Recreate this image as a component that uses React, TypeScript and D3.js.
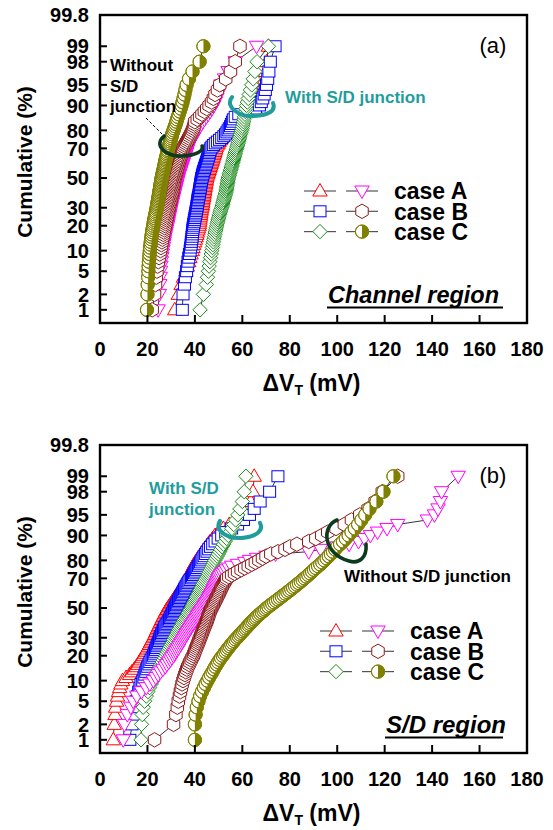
import React from 'react';
import * as d3 from 'd3';

// ---------- axes / labels ----------
const X_TICKS = [0, 20, 40, 60, 80, 100, 120, 140, 160, 180];
const Y_TICKS = [1, 2, 5, 10, 20, 30, 50, 70, 80, 90, 95, 98, 99];
const Y_TOP = 99.8;
const Y_BOTTOM = 0.525;
const CASES = ['case A', 'case B', 'case C'];

// ---------- (a) Channel region, ΔVT in mV, ranked samples ----------
const chA_withSD = [
  31.5, 33.0, 34.2, 35.2, 36.2, 36.8, 37.4, 37.9, 38.4, 38.9,
  39.2, 39.5, 39.9, 40.2, 40.5, 40.8, 41.0, 41.3, 41.5, 41.8,
  41.9, 42.0, 42.1, 42.2, 42.3, 42.4, 42.5, 42.6, 42.7, 42.8,
  43.0, 43.1, 43.2, 43.3, 43.4, 43.5, 43.6, 43.7, 43.8, 43.9,
  44.0, 44.1, 44.2, 44.3, 44.4, 44.5, 44.6, 44.7, 44.8, 44.9,
  45.0, 45.2, 45.4, 45.6, 45.8, 46.0, 46.2, 46.4, 46.6, 46.8,
  47.0, 47.2, 47.4, 47.6, 47.8, 48.0, 48.2, 48.4, 48.6, 48.8,
  49.0, 49.4, 49.8, 50.2, 50.7, 51.2, 51.7, 52.2, 52.7, 53.2,
  53.7, 54.2, 54.7, 55.2, 56.0, 57.5, 60.0, 63.5, 65.5, 66.8,
  67.3, 67.8, 68.2, 68.6, 69.0, 69.4, 69.8, 70.3, 71.0,
];
const chB_withSD = [
  34.7, 35.0, 35.6, 36.0, 36.5, 36.8, 37.1, 37.4, 37.7, 38.0,
  38.2, 38.4, 38.5, 38.7, 38.8, 38.9, 39.0, 39.1, 39.2, 39.4,
  39.5, 39.7, 39.8, 40.0, 40.1, 40.3, 40.4, 40.5, 40.7, 40.8,
  40.9, 41.0, 41.1, 41.2, 41.3, 41.4, 41.5, 41.7, 41.8, 41.9,
  42.0, 42.1, 42.2, 42.3, 42.4, 42.5, 42.6, 42.7, 42.8, 42.9,
  43.1, 43.2, 43.4, 43.5, 43.7, 43.9, 44.1, 44.3, 44.5, 44.7,
  44.9, 45.1, 45.3, 45.5, 45.7, 45.9, 46.0, 46.2, 46.4, 46.7,
  47.2, 47.8, 48.6, 49.5, 50.4, 51.3, 52.2, 52.9, 53.5, 54.0,
  54.5, 55.0, 55.4, 55.8, 56.2, 57.0, 58.5, 62.0, 65.5, 67.2,
  68.0, 68.6, 69.2, 69.7, 70.2, 70.7, 71.2, 71.8, 73.8,
];
const chC_withSD = [
  42.2, 43.6, 44.8, 45.3, 45.7, 46.0, 46.3, 46.6, 46.9, 47.1,
  47.4, 47.6, 47.8, 48.0, 48.2, 48.4, 48.6, 48.8, 49.0, 49.2,
  49.4, 49.6, 49.8, 50.0, 50.2, 50.4, 50.6, 50.8, 51.0, 51.3,
  51.5, 51.7, 51.8, 52.0, 52.2, 52.4, 52.5, 52.7, 52.9, 53.0,
  53.2, 53.3, 53.4, 53.5, 53.6, 53.7, 53.8, 53.9, 54.0, 54.1,
  54.3, 54.5, 54.6, 54.8, 55.0, 55.1, 55.3, 55.5, 55.6, 55.8,
  56.0, 56.2, 56.3, 56.5, 56.7, 56.8, 57.0, 57.2, 57.4, 57.6,
  57.8, 58.0, 58.2, 58.4, 58.6, 58.8, 59.0, 59.2, 59.5, 59.7,
  59.9, 60.1, 60.3, 60.5, 60.7, 60.9, 61.1, 61.3, 61.5, 61.8,
  62.1, 62.5, 62.9, 63.4, 64.0, 64.6, 65.3, 66.2, 71.0,
];
const chA_noSD = [
  24.5, 25.0, 25.2, 25.4, 25.5, 25.7, 25.9, 26.1, 26.3, 26.5,
  26.7, 26.9, 27.1, 27.3, 27.5, 27.7, 27.9, 28.1, 28.3, 28.5,
  28.7, 28.8, 29.0, 29.1, 29.3, 29.4, 29.6, 29.7, 29.9, 30.0,
  30.2, 30.3, 30.5, 30.6, 30.8, 30.9, 31.1, 31.2, 31.4, 31.5,
  31.7, 31.8, 32.0, 32.1, 32.3, 32.4, 32.6, 32.7, 32.9, 33.0,
  33.2, 33.4, 33.6, 33.8, 34.0, 34.2, 34.4, 34.6, 34.8, 35.0,
  35.2, 35.4, 35.6, 35.8, 36.0, 36.2, 36.4, 36.6, 36.8, 37.0,
  37.3, 37.6, 38.0, 38.4, 38.8, 39.2, 39.6, 40.0, 40.5, 41.0,
  41.5, 42.1, 42.7, 43.3, 44.0, 44.8, 45.6, 46.4, 47.2, 48.0,
  48.6, 49.2, 49.8, 50.4, 51.0, 52.5, 54.0, 57.0, 66.0,
];
const chB_noSD = [
  22.0, 23.0, 23.4, 23.7, 24.0, 24.3, 24.6, 24.9, 25.2, 25.5,
  25.7, 25.9, 26.1, 26.3, 26.5, 26.7, 26.9, 27.1, 27.3, 27.5,
  27.7, 27.8, 28.0, 28.1, 28.3, 28.4, 28.6, 28.7, 28.9, 29.0,
  29.2, 29.3, 29.5, 29.6, 29.8, 29.9, 30.0, 30.2, 30.3, 30.5,
  30.6, 30.7, 30.8, 30.9, 31.0, 31.1, 31.2, 31.3, 31.4, 31.5,
  31.7, 31.8, 32.0, 32.1, 32.3, 32.4, 32.6, 32.7, 32.9, 33.0,
  33.2, 33.4, 33.6, 33.8, 34.0, 34.2, 34.4, 34.6, 34.8, 35.0,
  35.4, 35.8, 36.2, 36.6, 37.0, 37.4, 37.8, 38.2, 38.6, 39.0,
  39.3, 39.6, 39.8, 40.0, 41.0, 42.0, 43.0, 44.0, 45.0, 46.0,
  47.0, 47.8, 48.5, 49.5, 50.5, 53.0, 55.0, 57.0, 59.0,
];
const chC_noSD = [
  19.8, 20.0, 20.1, 20.3, 20.4, 20.5, 20.6, 20.8, 20.9, 21.0,
  21.1, 21.3, 21.4, 21.6, 21.7, 21.8, 22.0, 22.1, 22.3, 22.4,
  22.6, 22.7, 22.9, 23.0, 23.2, 23.3, 23.5, 23.6, 23.8, 23.9,
  24.0, 24.1, 24.2, 24.4, 24.5, 24.6, 24.7, 24.8, 24.9, 25.0,
  25.1, 25.2, 25.3, 25.4, 25.5, 25.6, 25.7, 25.8, 25.9, 26.0,
  26.1, 26.3, 26.4, 26.5, 26.7, 26.8, 26.9, 27.1, 27.2, 27.3,
  27.4, 27.6, 27.7, 27.9, 28.0, 28.2, 28.3, 28.5, 28.6, 28.8,
  29.0, 29.2, 29.4, 29.6, 29.8, 30.0, 30.2, 30.4, 30.7, 31.0,
  31.3, 31.6, 31.9, 32.2, 32.5, 32.8, 33.2, 33.6, 34.0, 34.4,
  34.8, 35.2, 35.6, 36.0, 36.5, 37.5, 39.0, 42.0, 43.6,
];

// ---------- (b) S/D region ----------
const sdA_withSD = [
  5.6, 6.0, 6.3, 6.6, 7.0, 7.4, 7.8, 8.3, 8.8, 9.5,
  11.0, 12.5, 13.5, 14.5, 15.3, 16.0, 16.6, 17.2, 17.8, 18.3,
  18.8, 19.3, 19.7, 20.1, 20.5, 20.9, 21.3, 21.7, 22.1, 22.5,
  22.8, 23.1, 23.4, 23.7, 24.0, 24.3, 24.6, 24.9, 25.2, 25.5,
  25.8, 26.1, 26.4, 26.7, 27.0, 27.3, 27.6, 27.9, 28.3, 28.7,
  29.1, 29.5, 29.9, 30.3, 30.7, 31.1, 31.5, 31.9, 32.3, 32.7,
  33.1, 33.5, 33.9, 34.3, 34.7, 35.1, 35.5, 35.9, 36.2, 36.5,
  36.9, 37.3, 37.7, 38.1, 38.5, 38.9, 39.3, 39.7, 40.2, 40.8,
  41.4, 42.0, 42.6, 43.3, 44.0, 44.8, 45.6, 46.5, 47.5, 48.5,
  50.0, 52.0, 54.5, 57.0, 60.0, 62.0, 63.5, 64.5, 65.0,
];
const sdB_withSD = [
  12.6, 13.5, 14.2, 14.8, 15.3, 15.8, 16.3, 16.8, 17.3, 18.0,
  18.5, 18.9, 19.3, 19.7, 20.1, 20.6, 21.0, 21.5, 22.0, 22.5,
  22.8, 23.1, 23.4, 23.7, 24.0, 24.3, 24.6, 24.9, 25.1, 25.3,
  25.6, 25.9, 26.2, 26.5, 26.8, 27.1, 27.4, 27.8, 28.2, 28.6,
  29.0, 29.3, 29.6, 29.9, 30.2, 30.5, 30.8, 31.1, 31.4, 31.6,
  31.9, 32.2, 32.5, 32.8, 33.1, 33.4, 33.7, 34.0, 34.3, 34.7,
  35.0, 35.3, 35.6, 35.9, 36.3, 36.7, 37.1, 37.5, 38.0, 38.6,
  39.0, 39.4, 39.8, 40.2, 40.6, 41.0, 41.5, 42.0, 42.4, 42.9,
  43.4, 43.9, 44.5, 45.1, 45.8, 46.6, 47.5, 48.5, 49.8, 51.3,
  53.0, 55.5, 58.0, 60.5, 63.0, 65.0, 67.5, 71.5, 75.0,
];
const sdC_withSD = [
  17.3, 17.5, 17.8, 18.2, 18.8, 19.5, 20.2, 20.9, 21.6, 22.3,
  22.9, 23.5, 24.1, 24.7, 25.2, 25.7, 26.2, 26.7, 27.2, 27.7,
  28.1, 28.5, 28.9, 29.3, 29.7, 30.1, 30.5, 30.8, 31.1, 31.5,
  31.8, 32.2, 32.5, 32.9, 33.2, 33.6, 33.9, 34.3, 34.6, 35.0,
  35.3, 35.7, 36.0, 36.4, 36.7, 37.1, 37.4, 37.8, 38.1, 38.5,
  38.8, 39.1, 39.4, 39.7, 40.0, 40.3, 40.6, 40.9, 41.2, 41.5,
  41.8, 42.1, 42.4, 42.7, 43.0, 43.3, 43.6, 44.0, 44.4, 44.8,
  45.2, 45.5, 45.8, 46.1, 46.5, 46.8, 47.2, 47.6, 48.0, 48.4,
  48.9, 49.4, 49.9, 50.4, 50.9, 51.5, 52.1, 52.7, 53.4, 54.1,
  54.8, 55.6, 56.4, 57.2, 58.1, 59.0, 60.0, 60.8, 61.5,
];
const sdA_noSD = [
  9.8, 10.3, 11.5, 13.0, 14.0, 15.5, 17.5, 19.5, 21.0, 22.5,
  23.5, 24.5, 25.5, 26.5, 27.5, 28.2, 29.0, 29.7, 30.3, 31.0,
  31.5, 32.0, 32.5, 33.0, 33.5, 34.0, 34.4, 34.8, 35.2, 35.6,
  36.0, 36.4, 36.8, 37.2, 37.6, 38.0, 38.4, 38.8, 39.2, 39.6,
  40.0, 40.4, 40.8, 41.1, 41.5, 41.9, 42.3, 42.7, 43.1, 43.5,
  43.9, 44.3, 44.6, 45.0, 45.4, 45.8, 46.1, 46.5, 46.8, 47.1,
  47.4, 47.7, 48.0, 48.3, 48.6, 48.9, 49.2, 49.5, 49.8, 50.1,
  50.5, 51.0, 51.6, 52.3, 53.2, 54.3, 55.5, 58.0, 61.0, 63.0,
  66.0, 70.0, 74.0, 88.0, 93.0, 100.0, 105.0, 109.0, 111.5, 114.0,
  117.0, 121.0, 125.5, 138.0, 141.0, 142.5, 143.5, 144.0, 151.0,
];
const sdB_noSD = [
  23.0, 31.0, 32.0, 32.6, 33.0, 33.5, 33.9, 34.3, 34.6, 35.0,
  35.4, 35.8, 36.2, 36.6, 37.0, 37.5, 37.9, 38.4, 38.8, 39.3,
  39.6, 39.9, 40.2, 40.5, 40.8, 41.1, 41.4, 41.7, 41.9, 42.2,
  42.5, 42.7, 43.0, 43.2, 43.5, 43.7, 44.0, 44.2, 44.5, 44.7,
  45.0, 45.2, 45.4, 45.6, 45.8, 46.0, 46.2, 46.4, 46.7, 47.0,
  47.3, 47.6, 47.9, 48.2, 48.5, 48.8, 49.1, 49.4, 49.7, 50.0,
  50.3, 50.6, 50.9, 51.2, 51.5, 51.8, 52.2, 52.6, 53.0, 53.4,
  54.3, 55.5, 56.7, 58.0, 59.5, 61.0, 62.5, 64.0, 65.5, 67.0,
  68.5, 70.0, 72.0, 75.0, 78.0, 80.0, 83.0, 88.0, 91.0, 93.5,
  96.0, 99.5, 103.0, 106.0, 109.5, 113.0, 116.0, 119.0, 125.5,
];
const sdC_noSD = [
  40.0, 40.0, 40.3, 40.8, 41.5, 42.2, 43.0, 43.8, 44.5, 45.3,
  46.0, 46.7, 47.4, 48.0, 48.6, 49.2, 49.8, 50.4, 51.0, 51.7,
  52.3, 52.9, 53.5, 54.1, 54.7, 55.3, 55.9, 56.5, 57.1, 57.8,
  58.4, 59.0, 59.6, 60.2, 60.8, 61.4, 62.0, 62.6, 63.1, 63.7,
  64.3, 64.9, 65.5, 66.1, 66.8, 67.5, 68.2, 68.9, 69.6, 70.3,
  71.0, 71.8, 72.6, 73.4, 74.2, 75.0, 75.8, 76.6, 77.4, 78.2,
  79.0, 79.8, 80.6, 81.4, 82.2, 83.0, 83.8, 84.6, 85.4, 86.2,
  87.0, 87.8, 88.6, 89.4, 90.2, 91.0, 91.9, 92.8, 93.7, 94.6,
  95.5, 96.4, 97.3, 98.2, 99.1, 100.0, 101.2, 102.4, 103.6, 104.8,
  106.0, 107.4, 108.8, 110.2, 111.8, 113.6, 116.5, 119.5, 123.7,
];

// ---------- styling ----------
const FONT = "'Liberation Sans', Arial, Helvetica, sans-serif";
const TEAL = '#1f9d9d';
const DARK_GREEN = '#0c3a1c';

type Shape = 'triUp' | 'square' | 'diamond' | 'triDown' | 'hexagon' | 'halfCircle';
type Style = { shape: Shape; color: string };

const STYLES: Style[] = [
  { shape: 'triUp', color: '#ff0000' },
  { shape: 'square', color: '#0000ff' },
  { shape: 'diamond', color: '#1a8a1a' },
  { shape: 'triDown', color: '#ff00ff' },
  { shape: 'hexagon', color: '#8b1a1a' },
  { shape: 'halfCircle', color: '#808000' },
];

// inverse standard normal CDF (Acklam)
function probit(p: number): number {
  const a = [-3.969683028665376e1, 2.209460984245205e2, -2.759285104469687e2, 1.38357751867269e2, -3.066479806614716e1, 2.506628277459239];
  const b = [-5.447609879822406e1, 1.615858368580409e2, -1.556989798598866e2, 6.680131188771972e1, -1.328068155288572e1];
  const c = [-7.784894002430293e-3, -3.223964580411365e-1, -2.400758277161838, -2.549732539343734, 4.374664141464968, 2.938163982698783];
  const d = [7.784695709041462e-3, 3.224671290700398e-1, 2.445134137142996, 3.754408661907416];
  const pl = 0.02425;
  if (p < pl) {
    const q = Math.sqrt(-2 * Math.log(p));
    return (((((c[0] * q + c[1]) * q + c[2]) * q + c[3]) * q + c[4]) * q + c[5]) / ((((d[0] * q + d[1]) * q + d[2]) * q + d[3]) * q + 1);
  }
  if (p > 1 - pl) {
    const q = Math.sqrt(-2 * Math.log(1 - p));
    return -(((((c[0] * q + c[1]) * q + c[2]) * q + c[3]) * q + c[4]) * q + c[5]) / ((((d[0] * q + d[1]) * q + d[2]) * q + d[3]) * q + 1);
  }
  const q = p - 0.5;
  const r = q * q;
  return ((((((a[0] * r + a[1]) * r + a[2]) * r + a[3]) * r + a[4]) * r + a[5]) * q) / (((((b[0] * r + b[1]) * r + b[2]) * r + b[3]) * r + b[4]) * r + 1);
}

function Marker({ shape, color, x, y }: { shape: Shape; color: string; x: number; y: number }) {
  const t = `translate(${x},${y})`;
  const common = { fill: '#fff', stroke: color, strokeWidth: 1 };
  switch (shape) {
    case 'triUp':
      return <path transform={t} d="M0,-7.5L7.2,5L-7.2,5Z" {...common} />;
    case 'triDown':
      return <path transform={t} d="M0,7.5L7.2,-5L-7.2,-5Z" {...common} />;
    case 'square':
      return <rect transform={t} x={-6} y={-5.5} width={12} height={11} {...common} />;
    case 'diamond':
      return <path transform={t} d="M0,-7.2L7.2,0L0,7.2L-7.2,0Z" {...common} />;
    case 'hexagon': {
      const r = 7.2;
      const pts = d3.range(6).map((k) => {
        const a = (Math.PI / 3) * k - Math.PI / 2;
        return [r * Math.cos(a), r * Math.sin(a)];
      });
      return <path transform={t} d={'M' + pts.map((p) => p.join(',')).join('L') + 'Z'} {...common} />;
    }
    case 'halfCircle':
    default:
      return (
        <g transform={t}>
          <circle r={6.6} {...common} />
          <path d="M0,-6.6A6.6,6.6 0 0 1 0,6.6Z" fill={color} />
          <circle r={6.6} fill="none" stroke={color} strokeWidth={1} />
        </g>
      );
  }
}

const LEFT = 100;
const RIGHT = 527;
const PANEL_H = 308;

type PanelProps = {
  top: number;
  series: number[][];
  tag: string;
  region: string;
  regionX: number;
  regionSize: number;
  legendX: number;
  legendY: number;
  children?: (x: d3.ScaleLinear<number, number>, y: (p: number) => number) => React.ReactNode;
};

function Panel({ top, series, tag, region, regionX, regionSize, legendX, legendY, children }: PanelProps) {
  const bottom = top + PANEL_H;
  const x = d3.scaleLinear().domain([0, 180]).range([LEFT, RIGHT]);
  const z = d3.scaleLinear().domain([probit(Y_BOTTOM / 100), probit(Y_TOP / 100)]).range([bottom, top]);
  const y = (pct: number) => z(probit(pct / 100));
  const line = d3.line<[number, number]>().x((d) => x(d[0])).y((d) => y(d[1]));

  const ranked = series.map((vals) => vals.map((v, i) => [v, (100 * (i + 1)) / (vals.length + 1)] as [number, number]));

  return (
    <g>
      {/* data */}
      {ranked.map((pts, si) => (
        <g key={si}>
          <path d={line(pts) || ''} fill="none" stroke="#000" strokeWidth={0.8} />
          {pts.map((p, i) => (
            <Marker key={i} shape={STYLES[si].shape} color={STYLES[si].color} x={x(p[0])} y={y(p[1])} />
          ))}
        </g>
      ))}

      {children && children(x, y)}

      {/* frame */}
      <rect x={LEFT} y={top} width={RIGHT - LEFT} height={PANEL_H} fill="none" stroke="#000" strokeWidth={2.4} />

      {/* y axis */}
      {Y_TICKS.map((t) => (
        <g key={t}>
          <line x1={LEFT} x2={LEFT + 7} y1={y(t)} y2={y(t)} stroke="#000" strokeWidth={2} />
          <text x={89} y={y(t)} dy="0.36em" textAnchor="end" fontFamily={FONT} fontWeight="bold" fontSize={20}>
            {t}
          </text>
        </g>
      ))}
      <text x={89} y={top} dy="0.36em" textAnchor="end" fontFamily={FONT} fontWeight="bold" fontSize={20}>
        {Y_TOP}
      </text>

      {/* x axis */}
      {X_TICKS.map((t) => (
        <g key={t}>
          {t > 0 && t < 180 && (
            <line x1={x(t)} x2={x(t)} y1={bottom} y2={bottom - 8} stroke="#000" strokeWidth={2} />
          )}
          <text x={x(t)} y={bottom + 33} textAnchor="middle" fontFamily={FONT} fontWeight="bold" fontSize={20}>
            {t}
          </text>
        </g>
      ))}

      {/* axis titles */}
      <text x={(LEFT + RIGHT) / 2 - 2} y={bottom + 68} textAnchor="middle" fontFamily={FONT} fontWeight="bold" fontSize={23}>
        ΔV
        <tspan fontSize={14} dy={4}>T</tspan>
        <tspan dy={-4}> (mV)</tspan>
      </text>
      <text
        transform={`translate(32,${top + 147}) rotate(-90)`}
        textAnchor="middle"
        fontFamily={FONT}
        fontWeight="bold"
        fontSize={21}
      >
        Cumulative (%)
      </text>

      {/* panel tag */}
      <text x={493} y={top + 38} textAnchor="middle" fontFamily={FONT} fontSize={22}>
        {tag}
      </text>

      {/* region label */}
      <text x={regionX} y={bottom - 20} fontFamily={FONT} fontWeight="bold" fontStyle="italic" fontSize={regionSize}>
        {region}
      </text>
      <line x1={regionX - 1} x2={RIGHT - 24} y1={bottom - 15.5} y2={bottom - 15.5} stroke="#000" strokeWidth={2} />

      {/* legend */}
      {CASES.map((label, r) => {
        const ly = legendY + r * 20.3;
        return (
          <g key={label}>
            {[0, 1].map((c) => {
              const cx = legendX + c * 42;
              const st = STYLES[c * 3 + r];
              return (
                <g key={c}>
                  <line x1={cx - 16} x2={cx + 16} y1={ly} y2={ly} stroke="#555" strokeWidth={1.2} />
                  <Marker shape={st.shape} color={st.color} x={cx} y={ly} />
                </g>
              );
            })}
            <text x={legendX + 74} y={ly} dy="0.36em" fontFamily={FONT} fontWeight="bold" fontSize={23}>
              {label}
            </text>
          </g>
        );
      })}
    </g>
  );
}

export default function App() {
  return (
    <svg width={553} height={830} style={{ position: 'absolute', left: 0, top: 0, background: '#fff' }}>
      <rect width={553} height={830} fill="#fff" />
      <Panel
        top={15}
        series={[chA_withSD, chB_withSD, chC_withSD, chA_noSD, chB_noSD, chC_noSD]}
        tag="(a)"
        region="Channel region"
        regionX={328}
        regionSize={23.5}
        legendX={320}
        legendY={191}
      >
        {(x, y) => {
          const tx = x(64.1);
          const ty = y(90.1);
          const gx = x(34.6);
          const gy = y(71.4);
          return (
            <g>
              <path
                d={`M${tx - 20},${ty - 8} C${tx - 28},${ty + 2} ${tx - 12},${ty + 12} ${tx + 2},${ty + 11} C${tx + 16},${ty + 10} ${tx + 24},${ty + 6} ${tx + 21},${ty - 2}`}
                fill="none"
                stroke={TEAL}
                strokeWidth={4}
                strokeLinecap="round"
              />
              <text x={285} y={103} fontFamily={FONT} fontWeight="bold" fontSize={17} fill={TEAL}>
                With S/D junction
              </text>
              <path
                d={`M${gx - 18},${gy - 10} C${gx - 30},${gy} ${gx - 14},${gy + 11} ${gx},${gy + 10} C${gx + 14},${gy + 9} ${gx + 22},${gy + 5} ${gx + 20},${gy}`}
                fill="none"
                stroke={DARK_GREEN}
                strokeWidth={3.6}
                strokeLinecap="round"
              />
              <line x1={146} y1={118} x2={162} y2={134} stroke="#000" strokeWidth={1} strokeDasharray="3,2" />
              <g fontFamily={FONT} fontWeight="bold" fontSize={17}>
                <text x={110} y={71}>Without</text>
                <text x={110} y={91.5}>S/D</text>
                <text x={110} y={112}>junction</text>
              </g>
            </g>
          );
        }}
      </Panel>
      <Panel
        top={445}
        series={[sdA_withSD, sdB_withSD, sdC_withSD, sdA_noSD, sdB_noSD, sdC_noSD]}
        tag="(b)"
        region="S/D region"
        regionX={386}
        regionSize={24}
        legendX={336}
        legendY={631}
      >
        {(x, y) => {
          const tx = x(59);
          const ty = y(92.4);
          const gx = x(103.3);
          const gy = y(88.5);
          return (
            <g>
              <path
                d={`M${tx - 20},${ty - 6} C${tx - 26},${ty + 4} ${tx - 12},${ty + 12} ${tx + 2},${ty + 11} C${tx + 16},${ty + 10} ${tx + 24},${ty + 4} ${tx + 20},${ty - 4}`}
                fill="none"
                stroke={TEAL}
                strokeWidth={4}
                strokeLinecap="round"
              />
              <g fontFamily={FONT} fontWeight="bold" fontSize={17} fill={TEAL}>
                <text x={149} y={494}>With S/D</text>
                <text x={149} y={515}>junction</text>
              </g>
              <path
                d={`M${gx - 8},${gy - 20} C${gx - 24},${gy - 14} ${gx - 22},${gy + 14} ${gx + 4},${gy + 21} C${gx + 14},${gy + 24} ${gx + 22},${gy + 18} ${gx + 21},${gy + 4}`}
                fill="none"
                stroke={DARK_GREEN}
                strokeWidth={3.6}
                strokeLinecap="round"
              />
              <text x={344} y={582} fontFamily={FONT} fontWeight="bold" fontSize={17}>
                Without S/D junction
              </text>
            </g>
          );
        }}
      </Panel>
    </svg>
  );
}
